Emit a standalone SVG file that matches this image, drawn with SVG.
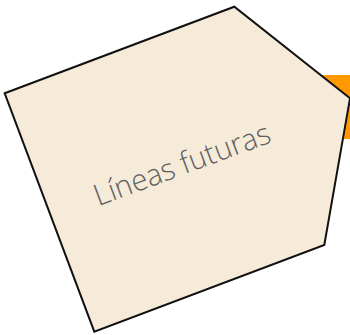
<svg xmlns="http://www.w3.org/2000/svg" width="350" height="335" viewBox="0 0 350 335">
  <style>
    .tab { fill: #FF9900; }
    .shape { fill: #F6EBD9; stroke: #111111; stroke-width: 2; stroke-linejoin: miter; }
    .label { font-family: "Open Sans", "Noto Sans", sans-serif; font-weight: 300; font-size: 30px; fill: #606060; }
  </style>
  <rect width="350" height="335" fill="#FFFFFF"/>
  <g id="tab">
    <rect class="tab" x="318" y="75" width="40" height="64"/>
  </g>
  <g id="pentagon">
    <polygon class="shape" points="4.7,93.3 234.3,6.7 350,98.3 324.3,245 94.3,331.7"/>
    <text class="label" x="185.5" y="174" text-anchor="middle" textLength="186" lengthAdjust="spacingAndGlyphs" transform="rotate(-20.3 185.5 174)">Líneas futuras</text>
  </g>
</svg>
